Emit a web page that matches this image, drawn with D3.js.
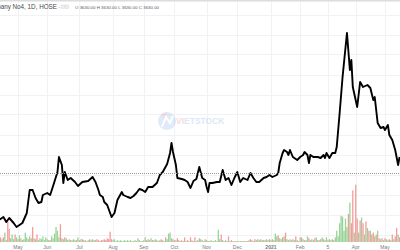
<html>
<head>
    <title>1D line chart - HOSE</title>
    <style>
        body { margin: 0; background: #fff; }
        svg { display: block; font-family: "Liberation Sans", Arial, sans-serif; }
        g.grid line { stroke: #f1f2f5; stroke-width: 1; }
        path.price { fill: none; stroke: #000; stroke-width: 1.9; stroke-linejoin: round; }
        line.last { stroke: #9b9b9b; stroke-width: 1; stroke-dasharray: 1, 1; }
        g.volume rect.up { fill: #9ad397; }
        g.volume rect.down { fill: #f49c9c; }
        text.month { font-size: 5px; fill: #787878; text-anchor: middle; }
    </style>
</head>
<body>
<div id="target"></div>
<script src="https://cdnjs.cloudflare.com/ajax/libs/d3/7.8.5/d3.min.js"></script>
<script>
    // market closed on these days (HOSE)
    var holidays = ['2020-04-30', '2020-05-01', '2020-09-02', '2021-01-01',
        '2021-02-10', '2021-02-11', '2021-02-12', '2021-02-15', '2021-02-16',
        '2021-04-21', '2021-04-30', '2021-05-03'];

    // closes (not every day)
    var lineDates = ['2020-04-13', '2020-04-14', '2020-04-16', '2020-04-20', '2020-04-22', '2020-04-27', '2020-04-29',
        '2020-05-05', '2020-05-07', '2020-05-12', '2020-05-14', '2020-05-18', '2020-05-20', '2020-05-22', '2020-05-26', '2020-05-27',
        '2020-06-01', '2020-06-03', '2020-06-05', '2020-06-10', '2020-06-11', '2020-06-15', '2020-06-16', '2020-06-17', '2020-06-19', '2020-06-23', '2020-06-26', '2020-06-30',
        '2020-07-03', '2020-07-09', '2020-07-14', '2020-07-16', '2020-07-20', '2020-07-21', '2020-07-23', '2020-07-24', '2020-07-28', '2020-07-30', '2020-07-31',
        '2020-08-04', '2020-08-06', '2020-08-11', '2020-08-12', '2020-08-17', '2020-08-19', '2020-08-21', '2020-08-25', '2020-08-27', '2020-08-31',
        '2020-09-03', '2020-09-07', '2020-09-10', '2020-09-15', '2020-09-17', '2020-09-21', '2020-09-24', '2020-09-28', '2020-09-29', '2020-09-30',
        '2020-10-02', '2020-10-05', '2020-10-08', '2020-10-12', '2020-10-14', '2020-10-16', '2020-10-20', '2020-10-22', '2020-10-26', '2020-10-28', '2020-10-30',
        '2020-11-02', '2020-11-03', '2020-11-04', '2020-11-06', '2020-11-11', '2020-11-13', '2020-11-17', '2020-11-19', '2020-11-23', '2020-11-25', '2020-11-27',
        '2020-12-01', '2020-12-03', '2020-12-07', '2020-12-10', '2020-12-14', '2020-12-16', '2020-12-18', '2020-12-22', '2020-12-25', '2020-12-29', '2020-12-31',
        '2021-01-05', '2021-01-08', '2021-01-11', '2021-01-12', '2021-01-14', '2021-01-15', '2021-01-19', '2021-01-20', '2021-01-21', '2021-01-25', '2021-01-28',
        '2021-02-01', '2021-02-03', '2021-02-04', '2021-02-08', '2021-02-09', '2021-02-17', '2021-02-19', '2021-02-24', '2021-02-26',
        '2021-03-02', '2021-03-03', '2021-03-04', '2021-03-08', '2021-03-10', '2021-03-12', '2021-03-15', '2021-03-17', '2021-03-19', '2021-03-24', '2021-03-26', '2021-03-29', '2021-03-30',
        '2021-04-02', '2021-04-06', '2021-04-08', '2021-04-13', '2021-04-15', '2021-04-19', '2021-04-20', '2021-04-23', '2021-04-27', '2021-04-29',
        '2021-05-04', '2021-05-06', '2021-05-07', '2021-05-11', '2021-05-13', '2021-05-17', '2021-05-18'];
    var closes = [2700, 2710, 2750, 2650, 2730, 2630, 2550,
        2590, 2630, 2830, 3290, 3290, 3130, 3030, 3050, 3190,
        3230, 3190, 3370, 3650, 3950, 3790, 3430, 3650, 3490, 3530, 3450, 3370,
        3450, 3470, 3550, 3450, 3290, 3190, 3150, 3050, 2990, 2830, 2750,
        2830, 3090, 3250, 3190, 3150, 3130, 3170, 3230, 3310, 3290,
        3250, 3350, 3350, 3430, 3590, 3650, 3810, 4030, 4230, 4050,
        3790, 3530, 3510, 3490, 3450, 3330, 3470, 3510, 3750, 3530, 3490,
        3350, 3250, 3430, 3430, 3450, 3450, 3690, 3490, 3530, 3390, 3530,
        3650, 3450, 3530, 3490, 3630, 3530, 3450, 3450, 3530, 3550, 3590,
        3550, 3590, 3630, 3830, 4030, 4090, 4050, 3990, 4090, 3950, 3890,
        3950, 3990, 4050, 3990, 3830, 3990, 3950, 3950, 3930,
        3990, 3930, 4030, 3930, 4030, 4030, 4150, 4830, 5550, 6430, 5690, 5890, 5350,
        4950, 5450, 5350, 5390, 5330, 5090, 5150, 4630, 4530, 4550,
        4490, 4590, 4390, 4290, 4090, 3790, 3950];

    // daily volume (x10k), one per trading day, negative = down day (red)
    var volumes = [
        -4, -5, 3, -5, 10, 2, -22, -14, 4, 8, 3, -8, 5,                                  // Apr
        -3, 7, 4, -2, 3, 10, 5, 3, 6, -4, -16, 4, -3, -8, 2, 4, 3, 6, 2, 5,                // May
        3, -2, 2, 6, 4, 9, 16, 12, 5, -19, -4, 3, -5, 4, 2, 3, -2, 2, 3, 2, -2, 5,         // Jun
        2, 3, -3, 2, -2, 1, 2, -3, 2, 3, -2, 2, -3, -2, 1, -2, 2, -3, -2, -4, -3, -11, -3, // Jul
        2, 3, 1, 2, 1, 2, 1, -1, 2, 1, 2, -1, 2, 1, 1, 2, -1, 4, 2, 1, -1,                 // Aug
        2, 5, 2, -3, 2, 4, -2, 2, 3, -2, 1, 2, -3, 2, 1, -5, 3, 9, 10, 4, -3,              // Sep
        -2, 2, -4, -2, 1, 2, -1, -5, 1, -2, 1, -5, 2, -1, -5, 1, -2, 4, 3, 2, 1, -3,       // Oct
        2, -1, 1, 2, 1, -1, 2, 1, 13, 3, -8, 2, -1, 2, 1, -6, 1, -2, 1, 1, -1,             // Nov
        1, -1, 1, 1, -1, 1, 1, -1, 2, -3, -2, 1, -3, 2, -3, 2, 3, -2, 2, -2, 3, 2, -3,     // Dec
        2, 3, -2, 9, 6, -7, 4, 3, -5, 6, -10, 3, 2, -3, 2, 3, -2, -6, 2, 1,                // Jan
        -5, 5, 3, -2, 2, 6, -4, 2, -3, 2, -4, 5, 2, -2, 3,                                 // Feb
        5, -3, 2, 5, -2, 3, 2, -3, 2, 5, 12, 6, 20, 28, 27, 12, 25, 16, -30, 42, -20, -55, 10, // Mar
        -61, -25, 10, -23, 26, -20, 8, -22, 15, -12, 12, -8, -10, 6, -8, 12, -4, 3, -4, 2, // Apr
        -4, 3, 2, -3, 2, -8, 3, -6, -15, 8, -5                                             // May
    ];

    var tickDates = ['2020-05-04', '2020-06-01', '2020-07-01', '2020-08-03', '2020-09-01', '2020-10-01',
        '2020-11-02', '2020-12-01', '2021-01-04', '2021-02-01', '2021-03-05', '2021-04-01', '2021-05-04'];
    var tickLabels = ['May', 'Jun', 'Jul', 'Aug', 'Sep', 'Oct', 'Nov', 'Dec', '2021', 'Feb', '5', 'Apr', 'May'];

    var lastPrice = 3630;

    var W = 400, H = 250;
    var parse = d3.timeParse('%Y-%m-%d'), fmt = d3.timeFormat('%Y-%m-%d');

    // trading days = weekdays minus holidays
    var tradingDays = d3.timeDay.range(parse('2020-04-13'), parse('2021-05-19'))
        .filter(function (d) {
            var wd = d.getDay();
            return wd > 0 && wd < 6 && holidays.indexOf(fmt(d)) < 0;
        })
        .map(fmt);

    var step = 1.462;
    var x = d3.scalePoint()
        .domain(tradingDays)
        .range([-1, -1 + step * (tradingDays.length - 1)]);

    var y = d3.scaleLinear().domain([2090, 7090]).range([H, 0]);
    var yVol = d3.scaleLinear().domain([0, 65]).range([242, 181]);

    var svg = d3.select('#target').append('svg')
        .attr('width', W)
        .attr('height', H);

    // grid
    var gGrid = svg.append('g').attr('class', 'grid');
    gGrid.selectAll('line.v')
        .data(tickDates)
        .enter().append('line')
        .attr('class', 'v')
        .attr('x1', function (d) { return Math.round(x(d)) + 0.5; })
        .attr('x2', function (d) { return Math.round(x(d)) + 0.5; })
        .attr('y1', 0).attr('y2', 242);
    gGrid.selectAll('line.h')
        .data(d3.range(2400, 7100, 400))
        .enter().append('line')
        .attr('class', 'h')
        .attr('x1', 0).attr('x2', W)
        .attr('y1', function (d) { return Math.round(y(d)) + 0.5; })
        .attr('y2', function (d) { return Math.round(y(d)) + 0.5; });

    // watermark
    var gMark = svg.append('g').attr('opacity', 0.33);
    gMark.append('circle').attr('cx', 167).attr('cy', 121).attr('r', 9).attr('fill', '#9fc3ec');
    gMark.append('path')
        .attr('d', 'M162,127 L166,117 L170,123 L173,116')
        .attr('fill', 'none').attr('stroke', '#fff').attr('stroke-width', 2);
    gMark.append('path').attr('d', 'M161,114 L167,112 L164,118 Z').attr('fill', '#f08a8a');
    var markText = gMark.append('text')
        .attr('x', 176).attr('y', 124)
        .style('font-size', '8.5px').style('font-weight', 'bold');
    markText.append('tspan').attr('fill', '#ef8f8f').text('VI');
    markText.append('tspan').attr('fill', '#8fb8e6').text('ETSTOCK');

    // volume
    svg.append('g').attr('class', 'volume')
        .selectAll('rect')
        .data(volumes)
        .enter().append('rect')
        .attr('class', function (v) { return v < 0 ? 'down' : 'up'; })
        .attr('x', function (v, i) { return x(tradingDays[i]) - 0.65; })
        .attr('width', 1.3)
        .attr('y', function (v) { return yVol(Math.abs(v)); })
        .attr('height', function (v) { return yVol(0) - yVol(Math.abs(v)); });

    // price line
    var pts = lineDates.map(function (d, i) { return {date: d, close: closes[i]}; });
    var line = d3.line()
        .x(function (d) { return x(d.date); })
        .y(function (d) { return y(d.close); });
    svg.append('path').datum(pts).attr('class', 'price').attr('d', line);

    svg.append('line').attr('class', 'last')
        .attr('x1', 0).attr('x2', W)
        .attr('y1', Math.round(y(lastPrice)) + 0.5)
        .attr('y2', Math.round(y(lastPrice)) + 0.5);

    // time axis labels
    svg.selectAll('text.month')
        .data(tickDates)
        .enter().append('text')
        .attr('class', 'month')
        .attr('x', function (d) { return x(d); })
        .attr('y', 248.5)
        .style('font-weight', function (d, i) { return tickLabels[i] === '2021' ? 'bold' : null; })
        .text(function (d, i) { return tickLabels[i]; });

    // header
    svg.append('rect').attr('x', 0).attr('y', 0).attr('width', W).attr('height', 1.5).attr('fill', '#dcdcdc');
    svg.append('text')
        .attr('x', 57).attr('y', 9)
        .attr('text-anchor', 'end')
        .style('font-size', '6.3px').style('fill', '#4a4a4a')
        .text('Company No4, 1D, HOSE');
    svg.append('text').attr('x', 58.5).attr('y', 9).style('font-size', '5px').style('fill', '#888').text('-');
    [61.5, 65.5].forEach(function (bx) {
        svg.append('rect').attr('x', bx).attr('y', 5).attr('width', 3.2).attr('height', 3.4)
            .attr('fill', '#eeeeee').attr('stroke', '#d6d6d6').attr('stroke-width', 0.5);
    });
    svg.append('text')
        .attr('x', 75).attr('y', 8.5)
        .style('font-size', '4.4px').style('fill', '#5a5a5a')
        .text('O 3630.00 H 3630.00 L 3630.00 C 3630.00');
</script>
</body>
</html>
